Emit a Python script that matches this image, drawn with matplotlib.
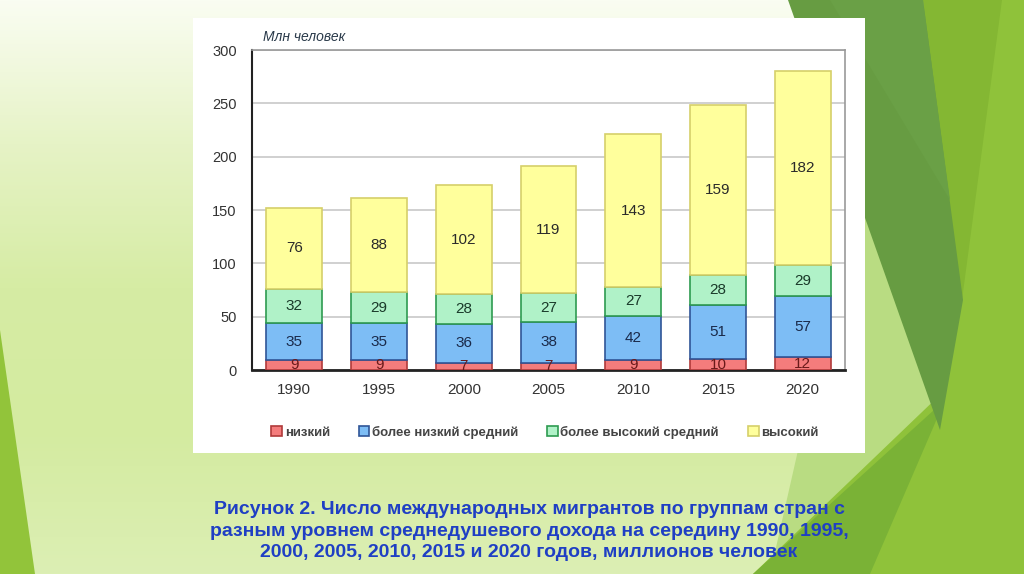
import numpy as np
import matplotlib.pyplot as plt
from matplotlib.patches import Polygon, Rectangle
from matplotlib.colors import LinearSegmentedColormap

plt.rcParams['font.family'] = ['Liberation Sans', 'DejaVu Sans']

# Data (millions of people)
years = ["1990", "1995", "2000", "2005", "2010", "2015", "2020"]
low = [9, 9, 7, 7, 9, 10, 12]
lower_mid = [35, 35, 36, 38, 42, 51, 57]
upper_mid = [32, 29, 28, 27, 27, 28, 29]
high = [76, 88, 102, 119, 143, 159, 182]

series_names = ["низкий", "более низкий средний", "более высокий средний", "высокий"]
fills = ["#f47c7c", "#7dbdf5", "#b0f2c8", "#ffff9c"]
edges = ["#b03a3a", "#2f5597", "#2e9b50", "#d6cf6a"]
text_colors = ["#6a1a1a", "#1a2a4a", "#1a3a2a", "#2a2a2a"]

caption = ("Рисунок 2. Число международных мигрантов по группам стран с\n"
           "разным уровнем среднедушевого дохода на середину 1990, 1995,\n"
           "2000, 2005, 2010, 2015 и 2020 годов, миллионов человек")

W, H = 1024, 574
fig = plt.figure(figsize=(W / 100, H / 100), dpi=100)

# Slide background
bg = fig.add_axes([0, 0, 1, 1])
bg.set_xlim(0, W)
bg.set_ylim(H, 0)
bg.axis("off")
cmap = LinearSegmentedColormap.from_list(
    "slide", ["#fafdf2", "#e6f3c6", "#d6eca4", "#d4eba0", "#dcefb4"])
grad = np.linspace(0, 1, 256).reshape(-1, 1)
bg.imshow(grad, cmap=cmap, extent=[0, W, H, 0], aspect="auto", zorder=0)

shapes = [
    ([(866, 150), (963, 300), (905, 574), (770, 574)], "#b9dc82"),
    ([(923, 0), (1024, 0), (1024, 574), (753, 574), (945, 390)], "#8fc23a"),
    ([(753, 574), (870, 574), (945, 400)], "#7ab236"),
    ([(923, 0), (1002, 0), (962, 300)], "#84b733"),
    ([(788, 0), (923, 0), (963, 300), (940, 430)], "#679c42"),
    ([(830, 0), (923, 0), (950, 200)], "#6aa046"),
    ([(0, 330), (0, 574), (35, 574)], "#92c43a"),
]
for pts, col in shapes:
    bg.add_patch(Polygon(pts, closed=True, facecolor=col, edgecolor="none", zorder=1))

bg.add_patch(Rectangle((193, 18), 672, 435, facecolor="white", edgecolor="none", zorder=2))

bg.text(529, 531, caption, ha="center", va="center", fontsize=14,
        fontweight="bold", color="#1f3fc4", linespacing=1.35, zorder=3)

# Chart
ax = fig.add_axes([252 / W, 1 - 370 / H, (845 - 252) / W, (370 - 50) / H])
x = np.arange(len(years))
bottom = np.zeros(len(years))
handles = []
for vals, name, fc, ec, tc in zip([low, lower_mid, upper_mid, high],
                                  series_names, fills, edges, text_colors):
    vals = np.array(vals)
    b = ax.bar(x, vals, 0.66, bottom=bottom, color=fc, edgecolor=ec,
               linewidth=1.2, label=name, zorder=3)
    handles.append(b)
    for xi, v, bt in zip(x, vals, bottom):
        ax.text(xi, bt + v / 2, str(v), ha="center", va="center",
                fontsize=11, color=tc, zorder=4)
    bottom = bottom + vals

ax.set_xlim(-0.5, len(years) - 0.5)
ax.set_ylim(0, 300)
ax.set_yticks(range(0, 301, 50))
ax.set_xticks(x)
ax.set_xticklabels(years)
ax.tick_params(axis="y", length=0, pad=11, labelsize=10.5, labelcolor="#333333")
ax.tick_params(axis="x", length=0, pad=9, labelsize=11, labelcolor="#333333")
ax.yaxis.grid(True, color="#c8c8c8", linewidth=1.2, zorder=0)
ax.set_axisbelow(True)
for side in ["top", "right"]:
    ax.spines[side].set_color("#999999")
    ax.spines[side].set_linewidth(1.2)
ax.spines["left"].set_color("#222222")
ax.spines["left"].set_linewidth(1.5)
ax.spines["bottom"].set_color("#222222")
ax.spines["bottom"].set_linewidth(2)

ax.text(263 / W, 1 - 37 / H, "Млн человек", transform=fig.transFigure,
        ha="left", va="center", fontsize=10, style="italic", color="#2a3a4a")

fig.legend(handles=handles, loc="center", bbox_to_anchor=(545 / W, 1 - 432 / H),
           ncol=4, frameon=False, handlelength=0.8, handleheight=0.8,
           handletextpad=0.2, columnspacing=2.2,
           prop={"weight": "bold", "size": 9.5})
for t in fig.legends[0].get_texts():
    t.set_color("#444444")

fig.savefig("out.png", dpi=100)
